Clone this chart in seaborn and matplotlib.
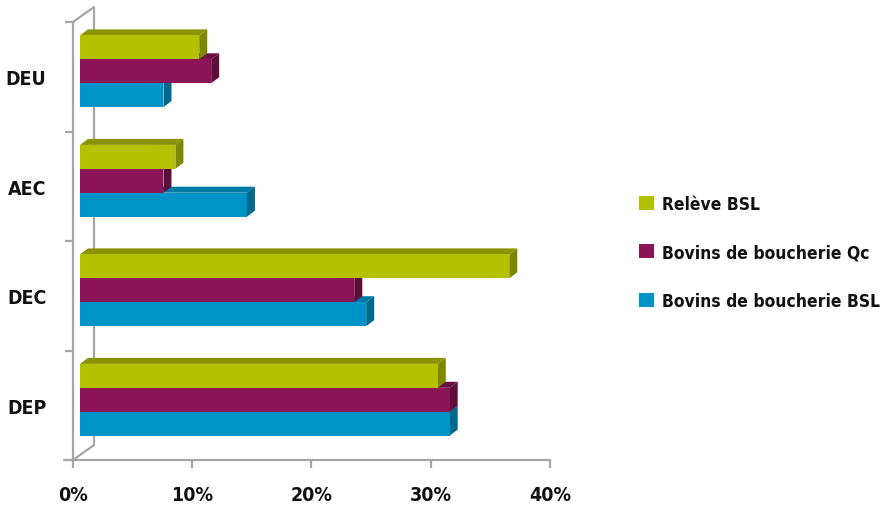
import matplotlib
matplotlib.use("Agg")
import matplotlib.pyplot as plt
from matplotlib.patches import Polygon
from matplotlib.transforms import ScaledTranslation
import numpy as np
import pandas as pd
import seaborn as sns

# Data (%)
categories = ["DEU", "AEC", "DEC", "DEP"]
series_names = ["Relève BSL", "Bovins de boucherie Qc", "Bovins de boucherie BSL"]
releve_bsl = [10, 8, 36, 30]
bovins_qc = [11, 7, 23, 31]
bovins_bsl = [7, 14, 24, 31]
x_ticks = [0, 10, 20, 30, 40]
x_tick_labels = ["0%", "10%", "20%", "30%", "40%"]

front_colors = ["#b4c100", "#8b1556", "#0093c7"]
top_colors = ["#8a9400", "#6a1042", "#0079a4"]
side_colors = ["#7d8700", "#5e0e3a", "#00688c"]
frame_color = "#a6a6a6"

df = pd.DataFrame({
    "cat": categories * 3,
    "serie": sum([[s] * len(categories) for s in series_names], []),
    "val": releve_bsl + bovins_qc + bovins_bsl,
})

sns.set_theme(style="white")
plt.rcParams["font.family"] = ["DejaVu Sans"]
plt.rcParams["font.weight"] = "bold"
plt.rcParams["font.stretch"] = "condensed"

W, H = 887, 510
fig = plt.figure(figsize=(W / 100, H / 100), dpi=100)
# front plane of the plot in pixel space
ax_l, ax_r, ax_t, ax_b = 73, 550, 23, 461
ax = fig.add_axes([ax_l / W, 1 - ax_b / H, (ax_r - ax_l) / W, (ax_b - ax_t) / H])

sns.barplot(data=df, y="cat", x="val", hue="serie", order=categories,
            hue_order=series_names, palette=front_colors, orient="h",
            width=0.655, gap=0, linewidth=0, saturation=1, ax=ax)

ax.set_xlim(0, 40)
ax.set_ylim(3.5, -0.5)
ax.set_xlabel("")
ax.set_ylabel("")

# depth effect (pixels)
shift_x, shift_y = 7, 5.5
depth_x, depth_y = 8, 6
to_fig = fig.transFigure.inverted()

for h, cont in enumerate(ax.containers):
    base = 10 + (len(ax.containers) - h) * 3
    for bar in cont:
        x0, y0 = bar.get_x(), bar.get_y()
        w, hh = bar.get_width(), bar.get_height()
        (px0, py0), (px1, py1) = ax.transData.transform([(x0, y0), (x0 + w, y0 + hh)])
        xl, xr = px0 + shift_x, px1 + shift_x
        yt, yb = max(py0, py1) + shift_y, min(py0, py1) + shift_y
        top = [(xl, yt), (xr, yt), (xr + depth_x, yt + depth_y), (xl + depth_x, yt + depth_y)]
        side = [(xr, yb), (xr, yt), (xr + depth_x, yt + depth_y), (xr + depth_x, yb + depth_y)]
        ax.add_patch(Polygon(to_fig.transform(top), closed=True, transform=fig.transFigure,
                             facecolor=top_colors[h], edgecolor="none", zorder=base,
                             clip_on=False))
        ax.add_patch(Polygon(to_fig.transform(side), closed=True, transform=fig.transFigure,
                             facecolor=side_colors[h], edgecolor="none", zorder=base + 0.5,
                             clip_on=False))
        bar.set_transform(ax.transData + ScaledTranslation(shift_x / 100, shift_y / 100,
                                                           fig.dpi_scale_trans))
        bar.set_zorder(base + 1)
        bar.set_clip_on(False)

# frame: front axis lines via spines, back wall via lines
for s in ["top", "right"]:
    ax.spines[s].set_visible(False)
for s in ["left", "bottom"]:
    ax.spines[s].set_color(frame_color)
    ax.spines[s].set_linewidth(1.6)
    ax.spines[s].set_zorder(2)


def fx(x, y):
    return x / W, 1 - y / H


wall = [fx(73, 461), fx(94, 446), fx(94, 8), fx(73, 23)]
ax.plot([p[0] for p in wall], [p[1] for p in wall], color=frame_color, lw=1.6,
        transform=fig.transFigure, clip_on=False, zorder=1)
ax.plot([fx(64, 461)[0], fx(73, 461)[0]], [fx(64, 461)[1]] * 2, color=frame_color,
        lw=1.6, transform=fig.transFigure, clip_on=False, zorder=1)

ax.set_xticks(x_ticks)
ax.set_xticklabels(x_tick_labels)
ax.set_yticks(range(len(categories)))
ax.set_yticklabels(categories)
ax.set_yticks(np.arange(-0.5, len(categories)), minor=True)
ax.tick_params(axis="y", which="major", length=0, pad=19, labelsize=14,
               labelcolor="#111111")
ax.tick_params(axis="y", which="minor", left=True, length=6, width=1.6,
               color=frame_color, direction="out")
ax.tick_params(axis="x", which="major", bottom=True, length=6, width=1.6,
               color=frame_color, direction="out", pad=12, labelsize=14,
               labelcolor="#111111")

sns.move_legend(ax, "upper left", bbox_to_anchor=fx(639, 196),
                bbox_transform=fig.transFigure, title=None, frameon=False,
                fontsize=12.5, handlelength=0.85, handleheight=0.85,
                handletextpad=0.5, labelspacing=1.75, borderpad=0,
                borderaxespad=0)
for t in ax.get_legend().get_texts():
    t.set_color("#111111")

fig.savefig("out.png", dpi=100)
